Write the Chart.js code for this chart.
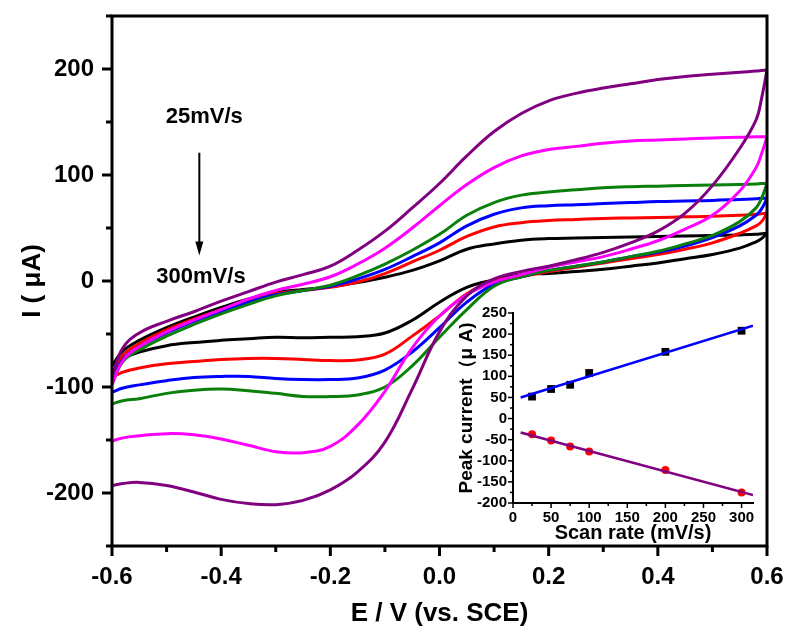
<!DOCTYPE html>
<html>
<head>
<meta charset="utf-8">
<script src="https://cdn.jsdelivr.net/npm/chart.js@4.4.1/dist/chart.umd.min.js"></script>
<style>
  html, body { margin: 0; padding: 0; background: #fff; }
  #wrap { position: relative; width: 790px; height: 634px; }
  #cvChart { position: absolute; left: 0; top: 0; }
  #insetChart { position: absolute; left: 430px; top: 290px; }
</style>
</head>
<body>
<div id="wrap">
  <canvas id="cvChart" width="790" height="634"></canvas>
  <canvas id="insetChart" width="340" height="265"></canvas>
</div>
<script>
// potential grid (V vs SCE), shared by forward and reverse sweeps
const potential = [-0.6, -0.58, -0.55, -0.5, -0.45, -0.4, -0.35, -0.3, -0.25, -0.2, -0.15, -0.1, -0.05, 0,
  0.05, 0.1, 0.15, 0.2, 0.25, 0.3, 0.35, 0.4, 0.45, 0.5, 0.55, 0.58, 0.59, 0.6];

// current (uA), forward sweep (upper branch) and reverse sweep (lower branch)
const fwd25 = [-80, -66, -56, -44, -34, -25, -17, -11, -8, -5.5, -1.5, 3.5, 10, 19, 30, 35, 38.5, 40, 40.5, 41, 41.5, 42, 42.5, 43, 43.5, 44, 44.5, 45];
const rev25 = [-79, -73, -67, -61, -58, -56, -54.5, -53, -53.5, -53, -52.5, -49, -37, -20, -6, 1, 6, 7, 9, 11, 14, 17, 21, 25, 31, 37, 40, 45];
const fwd50 = [-87, -70, -59, -46, -36, -27, -19, -12, -9, -6, -1, 7, 18, 29, 42, 51, 55, 57, 58, 59, 59.5, 60, 60.5, 61, 62, 63, 63.5, 64];
const rev50 = [-91, -86, -82, -78, -76, -74, -73, -73, -74, -75, -74.5, -69, -52, -33, -12, 0, 4, 9, 13, 17, 21, 25, 30, 36, 45, 52, 56, 64];
const fwd75 = [-93, -74, -62, -49, -38, -29, -20, -13, -9, -5, 2, 11, 23, 36, 52, 63, 69, 71, 72, 73, 74, 75, 75.5, 76, 77, 77.5, 78, 78];
const rev75 = [-105, -101, -98, -94, -91, -90, -90, -92, -93, -93, -91.5, -84, -67, -44, -20, -3, 4, 10, 14, 18, 23, 27, 33, 41, 52, 62, 68, 78];
const fwd100 = [-97, -76, -65, -52, -41, -31, -22, -14, -9, -4, 5, 16, 29, 44, 62, 74, 81, 84, 86, 88, 89, 89.5, 90, 90.5, 91, 91.5, 92, 92];
const rev100 = [-116, -113, -111, -106, -103, -102, -103.5, -106, -109, -109, -107.5, -100, -80, -53, -27, -5, 4, 10, 14, 18, 23, 28, 35, 43, 56, 69, 78, 92];
const fwd200 = [-98, -75, -62, -48, -37, -27, -17, -9, -3, 4, 16, 31, 50, 71, 91, 107, 118, 124, 127, 130, 132, 133, 134, 135, 135.5, 136, 136, 136];
const rev200 = [-151, -148, -146, -144, -145, -149, -155, -161, -162, -156, -136, -104, -63, -33, -13, -1, 6, 13, 18, 23, 30, 38, 49, 62, 85, 107, 120, 136];
const fwd300 = [-90, -63, -49, -38, -29, -19, -10, -1, 6, 14, 29, 47, 69, 92, 118, 141, 158, 170, 177, 182, 186, 190, 193, 195, 197, 198, 198.5, 199];
const rev300 = [-193, -191, -190, -193, -199, -206, -210, -211, -207, -197, -180, -152, -102, -48, -14, 2, 9, 14, 20, 27, 36, 47, 64, 90, 125, 152, 172, 199];

const curves = [
  { rate: "25mV/s", fwd: fwd25, rev: rev25, color: "#000000" },
  { rate: "50mV/s", fwd: fwd50, rev: rev50, color: "#ff0000" },
  { rate: "75mV/s", fwd: fwd75, rev: rev75, color: "#0000ff" },
  { rate: "100mV/s", fwd: fwd100, rev: rev100, color: "#0a800a" },
  { rate: "200mV/s", fwd: fwd200, rev: rev200, color: "#ff00ff" },
  { rate: "300mV/s", fwd: fwd300, rev: rev300, color: "#800080" }
];

// inset: peak current vs scan rate
const scanRate = [25, 50, 75, 100, 200, 300];
const anodicPeak = [52, 70, 80, 108, 158, 208];
const cathodicPeak = [-37, -52, -66, -78, -122, -175];
const fitRate = [10, 315];
const anodicFit = [50, 220];
const cathodicFit = [-33, -181];

const FONT = "'Liberation Sans', Arial, sans-serif";

function branch(ys) {
  return potential.map((e, i) => ({ x: e, y: ys[i] }));
}

function isMajor(v, step) {
  const r = v / step;
  return Math.abs(r - Math.round(r)) < 1e-6;
}

// keep the plot box where it is: no extra room for half tick labels
function fixBox(w, h) {
  return s => {
    if (w) s.width = w;
    if (h) s.height = h;
    s.paddingTop = 0;
    s.paddingBottom = 0;
    s.paddingLeft = 0;
    s.paddingRight = 0;
  };
}

// frame + major/minor tick marks drawn from the chart's own scales
const axisDecor = {
  id: "axisDecor",
  afterDraw(chart, args, o) {
    const { ctx, chartArea: a } = chart;
    const xs = chart.scales.x, ys = chart.scales.y;
    ctx.save();
    ctx.strokeStyle = "#000";
    ctx.lineCap = "square";
    ctx.lineWidth = o.frameWidth;
    ctx.beginPath();
    if (o.box) {
      ctx.rect(a.left, a.top, a.right - a.left, a.bottom - a.top);
    } else {
      ctx.moveTo(a.left, a.top);
      ctx.lineTo(a.left, a.bottom);
      ctx.lineTo(a.right, a.bottom);
    }
    ctx.stroke();
    ctx.lineCap = "butt";
    ctx.lineWidth = o.tickWidth;
    xs.ticks.forEach(t => {
      const px = xs.getPixelForValue(t.value);
      const len = isMajor(t.value, o.xMajor) ? o.majorLen : o.minorLen;
      ctx.beginPath();
      ctx.moveTo(px, a.bottom);
      ctx.lineTo(px, a.bottom + len);
      ctx.stroke();
    });
    ys.ticks.forEach(t => {
      const py = ys.getPixelForValue(t.value);
      const len = isMajor(t.value, o.yMajor) ? o.majorLen : o.minorLen;
      ctx.beginPath();
      ctx.moveTo(a.left, py);
      ctx.lineTo(a.left - len, py);
      ctx.stroke();
    });
    ctx.restore();
  }
};

// scan-rate annotation with arrow
const rateNote = {
  id: "rateNote",
  afterDatasetsDraw(chart) {
    const { ctx } = chart;
    const xs = chart.scales.x, ys = chart.scales.y;
    ctx.save();
    ctx.fillStyle = "#000";
    ctx.strokeStyle = "#000";
    ctx.font = "bold 22px " + FONT;
    ctx.textAlign = "center";
    ctx.textBaseline = "middle";
    ctx.fillText("25mV/s", xs.getPixelForValue(-0.431), ys.getPixelForValue(155));
    ctx.fillText("300mV/s", xs.getPixelForValue(-0.437), ys.getPixelForValue(4));
    const ax = xs.getPixelForValue(-0.44);
    const y0 = ys.getPixelForValue(121), y1 = ys.getPixelForValue(24);
    ctx.lineWidth = 2;
    ctx.beginPath();
    ctx.moveTo(ax, y0);
    ctx.lineTo(ax, y1 - 12);
    ctx.stroke();
    ctx.beginPath();
    ctx.moveTo(ax - 4, y1 - 14);
    ctx.lineTo(ax + 4, y1 - 14);
    ctx.lineTo(ax, y1);
    ctx.closePath();
    ctx.fill();
    ctx.restore();
  }
};

const cvSets = [];
curves.forEach((c, i) => {
  [c.fwd, c.rev].forEach(ys => {
    cvSets.push({
      label: c.rate,
      data: branch(ys),
      showLine: true,
      borderColor: c.color,
      borderWidth: 3,
      pointRadius: 0,
      tension: 0.4,
      fill: false,
      order: curves.length - i
    });
  });
});

new Chart(document.getElementById("cvChart"), {
  type: "scatter",
  data: { datasets: cvSets },
  options: {
    responsive: false,
    animation: false,
    layout: { padding: { top: 16, right: 23, left: 0, bottom: 0 } },
    plugins: {
      legend: { display: false },
      tooltip: { enabled: false },
      axisDecor: { box: true, frameWidth: 3, tickWidth: 3, majorLen: 10, minorLen: 6, xMajor: 0.2, yMajor: 100 }
    },
    scales: {
      x: {
        type: "linear",
        min: -0.6,
        max: 0.6,
        afterFit: fixBox(0, 88),
        grid: { drawOnChartArea: false, drawTicks: false },
        border: { display: false },
        ticks: {
          stepSize: 0.1,
          padding: 17,
          maxRotation: 0,
          autoSkip: false,
          color: "#000",
          font: { family: FONT, size: 24, weight: "bold" },
          callback: v => isMajor(v, 0.2) ? (Math.round(v * 10) / 10).toFixed(1) : ""
        },
        title: {
          display: true,
          text: "E / V (vs. SCE)",
          color: "#000",
          padding: { top: 0, bottom: 5 },
          font: { family: FONT, size: 26, weight: "bold" }
        }
      },
      y: {
        type: "linear",
        min: -250,
        max: 250,
        afterFit: fixBox(112, 0),
        grid: { drawOnChartArea: false, drawTicks: false },
        border: { display: false },
        ticks: {
          stepSize: 50,
          padding: 18,
          autoSkip: false,
          color: "#000",
          font: { family: FONT, size: 24, weight: "bold" },
          callback: v => isMajor(v, 100) ? String(v) : ""
        },
        title: {
          display: true,
          text: "I ( μA)",
          color: "#000",
          padding: { top: 17, bottom: 0 },
          font: { family: FONT, size: 26, weight: "bold" }
        }
      }
    }
  },
  plugins: [axisDecor, rateNote]
});

const toPts = (xs, ys) => xs.map((x, i) => ({ x, y: ys[i] }));

new Chart(document.getElementById("insetChart"), {
  type: "scatter",
  data: {
    datasets: [
      { data: toPts(fitRate, anodicFit), showLine: true, borderColor: "#0000ff", borderWidth: 2.5, pointRadius: 0, order: 1 },
      { data: toPts(fitRate, cathodicFit), showLine: true, borderColor: "#800080", borderWidth: 2.5, pointRadius: 0, order: 1 },
      { data: toPts(scanRate, anodicPeak), pointStyle: "rect", pointRadius: 5.5, backgroundColor: "#000", borderColor: "#000", borderWidth: 0, order: 2 },
      { data: toPts(scanRate, cathodicPeak), pointStyle: "circle", pointRadius: 4, backgroundColor: "#ff0000", borderColor: "#ff0000", borderWidth: 0, order: 2 }
    ]
  },
  options: {
    responsive: false,
    animation: false,
    layout: { padding: { top: 23, right: 17, left: 22, bottom: 0 } },
    plugins: {
      legend: { display: false },
      tooltip: { enabled: false },
      axisDecor: { box: false, frameWidth: 2, tickWidth: 1.5, majorLen: 5, minorLen: 3, xMajor: 50, yMajor: 50 }
    },
    scales: {
      x: {
        type: "linear",
        min: 0,
        max: 315,
        afterFit: fixBox(0, 52),
        grid: { drawOnChartArea: false, drawTicks: false },
        border: { display: false },
        ticks: {
          stepSize: 25,
          includeBounds: false,
          padding: 6,
          maxRotation: 0,
          autoSkip: false,
          color: "#000",
          font: { family: FONT, size: 15, weight: "bold" },
          callback: v => isMajor(v, 50) ? String(v) : ""
        },
        title: {
          display: true,
          text: "Scan rate (mV/s)",
          color: "#000",
          padding: { top: 0, bottom: 10 },
          font: { family: FONT, size: 20, weight: "bold" }
        }
      },
      y: {
        type: "linear",
        min: -200,
        max: 250,
        afterFit: fixBox(61, 0),
        grid: { drawOnChartArea: false, drawTicks: false },
        border: { display: false },
        ticks: {
          stepSize: 25,
          padding: 6,
          autoSkip: false,
          color: "#000",
          font: { family: FONT, size: 15, weight: "bold" },
          callback: v => isMajor(v, 50) ? String(v) : ""
        },
        title: {
          display: true,
          text: "Peak current（μ A)",
          color: "#000",
          padding: { top: 3, bottom: 0 },
          font: { family: FONT, size: 19, weight: "bold" }
        }
      }
    }
  },
  plugins: [axisDecor]
});
</script>
</body>
</html>
